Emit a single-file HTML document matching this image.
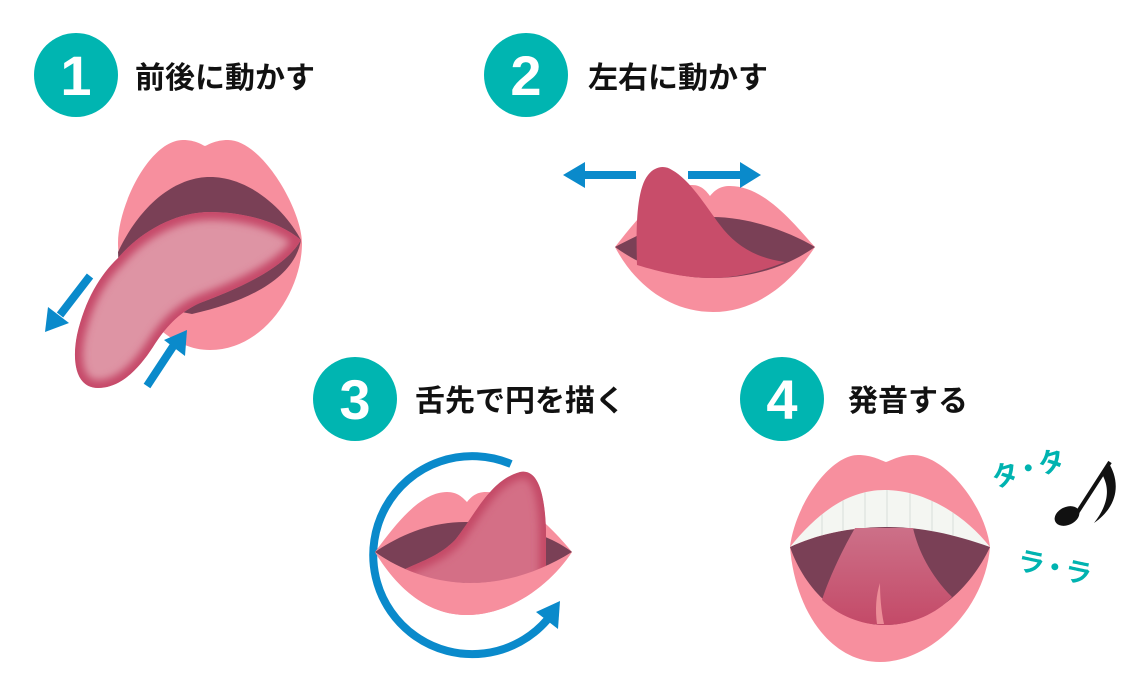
<!DOCTYPE html>
<html><head><meta charset="utf-8"><style>
html,body{margin:0;padding:0;background:#fff;}
svg{display:block;}
.t{font-family:"Liberation Sans","Noto Sans CJK JP",sans-serif;font-weight:bold;font-size:30px;fill:#111;}
.n{font-family:"Liberation Sans",sans-serif;font-weight:bold;font-size:56px;fill:#fff;}
.k{font-family:"Liberation Sans","Noto Sans CJK JP",sans-serif;font-weight:bold;font-size:27px;fill:#00b3b0;letter-spacing:-3px;}
</style></head><body>
<svg width="1140" height="690" viewBox="0 0 1140 690" xmlns="http://www.w3.org/2000/svg">
<defs>
<filter id="bl" filterUnits="userSpaceOnUse" x="0" y="0" width="1140" height="690"><feGaussianBlur stdDeviation="4"/></filter>
<clipPath id="t1c"><path d="M118,258 C100,275 85,300 77,335 C72,360 75,388 98,388 C120,388 138,370 153,347 C165,328 178,313 200,303 C240,288 285,268 301,240 C280,222 245,212 210,212 C175,212 140,232 118,258 Z"/></clipPath>
<clipPath id="t3c"><path d="M405,569 C425,560 440,555 455,540 C475,515 490,480 520,472 C540,468 545,500 546,530 L546,568 C520,578 495,583 470,583 C445,583 425,578 405,569 Z"/></clipPath>
<clipPath id="teeth"><path d="M790,547 C820,510 850,490 885,490 C925,490 965,515 990,547 C950,533 920,527 885,527 C850,527 815,535 790,547 Z"/></clipPath>
<linearGradient id="g4" x1="0" y1="0" x2="0" y2="1">
<stop offset="0" stop-color="#cc7088"/><stop offset="1" stop-color="#c44a68"/>
</linearGradient>
</defs>
<rect width="1140" height="690" fill="#fff"/>

<!-- Headers -->
<circle cx="76" cy="75" r="42" fill="#00b5b1"/>
<text class="n" x="76" y="95" text-anchor="middle">1</text>
<text class="t" x="135" y="88">前後に動かす</text>

<circle cx="526" cy="75" r="42" fill="#00b5b1"/>
<text class="n" x="526" y="95" text-anchor="middle">2</text>
<text class="t" x="588" y="88">左右に動かす</text>

<circle cx="355" cy="399" r="42" fill="#00b5b1"/>
<text class="n" x="355" y="419" text-anchor="middle">3</text>
<text class="t" x="415" y="411">舌先で円を描く</text>

<circle cx="782" cy="399" r="42" fill="#00b5b1"/>
<text class="n" x="782" y="419" text-anchor="middle">4</text>
<text class="t" x="848" y="411">発音する</text>

<!-- Mouth 1 -->
<path d="M118,243 C118,205 150,140 183,140 C196,140 202,145 205,146 C208,145 215,140 228,140 C262,140 302,210 302,243 C302,290 265,350 210,350 C160,350 118,290 118,243 Z" fill="#f78f9e"/>
<path d="M118,252 C140,205 175,177 210,177 C250,177 285,210 301,240 C295,275 255,300 192,314 L120,300 Z" fill="#7a4056"/>
<g clip-path="url(#t1c)">
<path d="M118,258 C100,275 85,300 77,335 C72,360 75,388 98,388 C120,388 138,370 153,347 C165,328 178,313 200,303 C240,288 285,268 301,240 C280,222 245,212 210,212 C175,212 140,232 118,258 Z" fill="#de94a4"/>
<path d="M118,258 C100,275 85,300 77,335 C72,360 75,388 98,388 C120,388 138,370 153,347 C165,328 178,313 200,303 C240,288 285,268 301,240 C280,222 245,212 210,212 C175,212 140,232 118,258 Z" fill="none" stroke="#c64a69" stroke-width="16" filter="url(#bl)"/>
</g>
<!-- arrows mouth 1 -->
<line x1="90" y1="276" x2="60" y2="315" stroke="#0a8acb" stroke-width="8"/>
<polygon points="45,332 48,307 69,323" fill="#0a8acb"/>
<line x1="147" y1="386" x2="174" y2="345" stroke="#0a8acb" stroke-width="8"/>
<polygon points="187,330 164,340 185,356" fill="#0a8acb"/>

<!-- Mouth 2 -->
<path d="M615,247 C640,215 665,185 692,185 C702,185 707,192 710,196 C715,190 720,186 730,186 C765,186 795,225 815,247 C790,285 755,312 713,312 C670,312 635,285 615,247 Z" fill="#f78f9e"/>
<path d="M615,247 C650,228 680,217 712,217 C750,217 790,232 815,247 C785,268 750,278 712,278 C670,278 640,265 615,247 Z" fill="#7a4056"/>
<path d="M637,265 C636,230 636,190 648,175 C655,166 665,165 672,170 C690,180 705,205 720,225 C735,245 755,258 785,262 C760,272 735,278 712,278 C685,278 660,272 637,265 Z" fill="#c84d6a"/>
<rect x="585" y="171" width="51" height="8" fill="#0a8acb"/>
<polygon points="563,175 585,162 585,188" fill="#0a8acb"/>
<rect x="688" y="171" width="52" height="8" fill="#0a8acb"/>
<polygon points="761,175 740,162 740,188" fill="#0a8acb"/>

<!-- Mouth 3 -->
<path d="M511,464 A99,99 0 1 0 547,620" fill="none" stroke="#0a8acb" stroke-width="8"/>
<polygon points="536,612 560,601 558,629" fill="#0a8acb"/>
<path d="M375,552 C395,525 420,492 447,492 C458,492 463,498 467,502 C471,497 476,492 486,492 C515,492 550,525 572,552 C550,585 510,615 467,615 C425,615 395,585 375,552 Z" fill="#f78f9e"/>
<path d="M375,552 C400,535 430,522 465,522 C510,522 550,535 572,552 C540,572 505,583 470,583 C435,583 400,570 375,552 Z" fill="#7a4056"/>
<g clip-path="url(#t3c)">
<path d="M405,569 C425,560 440,555 455,540 C475,515 490,480 520,472 C540,468 545,500 546,530 L546,568 C520,578 495,583 470,583 C445,583 425,578 405,569 Z" fill="#d46f86"/>
<path d="M405,569 C425,560 440,555 455,540 C475,515 490,480 520,472 C540,468 545,500 546,530 L546,600" fill="none" stroke="#c44a66" stroke-width="14" filter="url(#bl)"/>
</g>
<path d="M375,552 C400,570 435,583 470,583 C505,583 540,572 572,552 C550,585 510,615 467,615 C425,615 395,585 375,552 Z" fill="#f78f9e"/>

<!-- Mouth 4 -->
<path d="M790,547 C795,505 830,455 858,455 C872,455 880,460 886,462 C892,460 900,455 913,455 C945,455 985,505 990,547 C985,610 930,662 880,662 C830,662 795,610 790,547 Z" fill="#f78f9e"/>
<path d="M790,547 C815,535 850,527 885,527 C925,527 965,535 990,547 C970,590 930,625 885,625 C840,625 805,590 790,547 Z" fill="#7a4056"/>
<path d="M790,547 C820,510 850,490 885,490 C925,490 965,515 990,547 C950,533 920,527 885,527 C850,527 815,535 790,547 Z" fill="#f4f6f2"/>
<g clip-path="url(#teeth)" stroke="#d9ddd9" stroke-width="1">
<line x1="822" y1="480" x2="822" y2="560"/>
<line x1="843" y1="480" x2="843" y2="560"/>
<line x1="865" y1="480" x2="865" y2="560"/>
<line x1="887" y1="480" x2="887" y2="560"/>
<line x1="910" y1="480" x2="910" y2="560"/>
<line x1="932" y1="480" x2="932" y2="560"/>
<line x1="953" y1="480" x2="953" y2="560"/>
</g>
<path d="M822,600 C830,575 845,545 855,528 L913,528 C918,550 930,575 952,597 C935,615 910,625 885,625 C860,625 838,615 822,600 Z" fill="url(#g4)"/>
<path d="M880,583 C876,595 875,610 877,624 L884,624 C881,610 880,595 880,583 Z" fill="#ec8e98"/>

<!-- Sound text and note -->
<text class="k" transform="translate(995,488) rotate(-16)">タ・タ</text>
<text class="k" transform="translate(1016,569) rotate(12)">ラ・ラ</text>
<ellipse cx="1067" cy="516" rx="13" ry="9" transform="rotate(-25 1067 516)" fill="#111"/>
<line x1="1077" y1="513" x2="1110" y2="462" stroke="#111" stroke-width="4"/>
<path d="M1108,462 C1120,480 1120,505 1094,523 C1108,505 1110,490 1103,476 Z" fill="#111"/>
</svg>
</body></html>
